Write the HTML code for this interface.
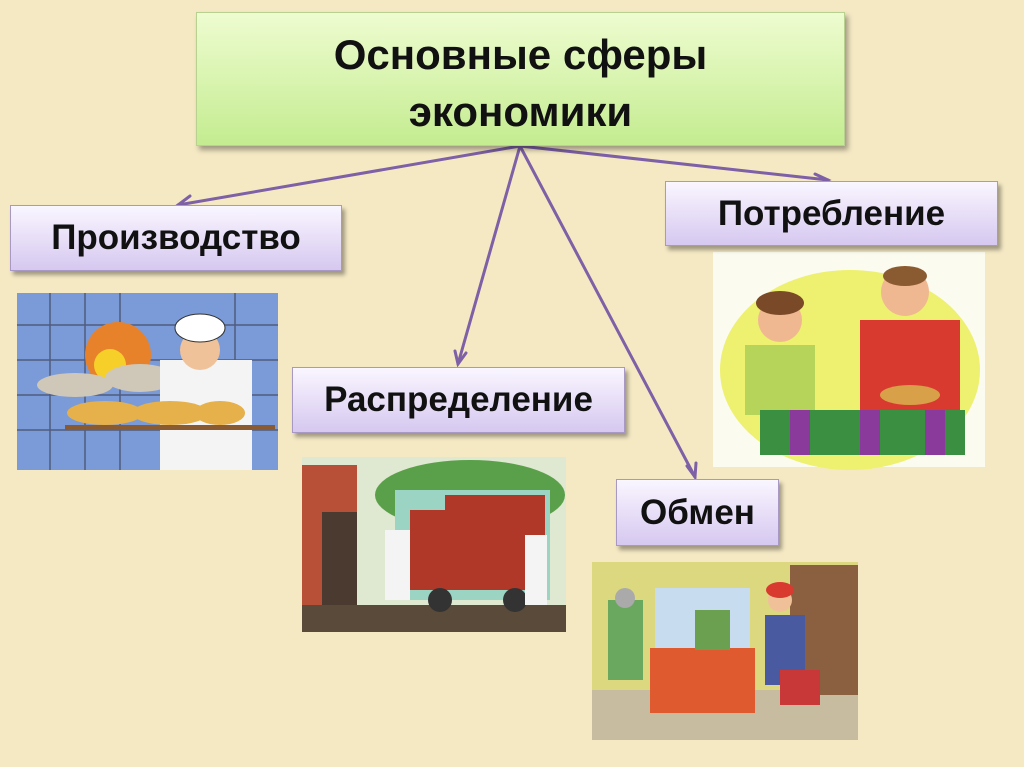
<!DOCTYPE html>
<html><head><meta charset="utf-8"><style>
html,body{margin:0;padding:0}
body{width:1024px;height:767px;position:relative;overflow:hidden;background:#f5e9c4;font-family:"Liberation Sans","DejaVu Sans",sans-serif;}
.b{position:absolute;box-sizing:border-box;display:flex;align-items:center;justify-content:center;text-align:center;font-weight:bold;color:#111;}
.top{left:196px;top:12px;width:649px;height:134px;background:linear-gradient(#eefcd0,#c4ec90);border:1px solid #b8d090;box-shadow:3px 4px 5px rgba(0,0,0,.35);font-size:42px;line-height:57px;padding-top:8px;}
.p{background:linear-gradient(#faf6ff,#d6c8f0);border:1px solid #a898c4;box-shadow:3px 4px 4px rgba(0,0,0,.35);font-size:35px;}
svg{position:absolute;left:0;top:0}
</style></head><body>
<svg width="1024" height="767">
<rect x="17" y="293" width="261" height="177" fill="#7a9bd8"/>
<g stroke="#334" stroke-width="1.5" opacity=".6">
<line x1="17" y1="325" x2="278" y2="325"/><line x1="17" y1="360" x2="278" y2="360"/><line x1="17" y1="395" x2="278" y2="395"/><line x1="17" y1="430" x2="278" y2="430"/>
<line x1="50" y1="293" x2="50" y2="470"/><line x1="85" y1="293" x2="85" y2="470"/><line x1="120" y1="293" x2="120" y2="470"/><line x1="235" y1="293" x2="235" y2="470"/>
</g>
<circle cx="118" cy="355" r="33" fill="#e8822a"/><circle cx="110" cy="365" r="16" fill="#f6d028"/>
<ellipse cx="75" cy="385" rx="38" ry="12" fill="#cfc7b8"/><ellipse cx="140" cy="378" rx="35" ry="14" fill="#cfc7b8"/>
<rect x="160" y="360" width="92" height="110" fill="#f4f4f4"/><circle cx="200" cy="350" r="20" fill="#f0c29a"/><ellipse cx="200" cy="328" rx="25" ry="14" fill="#fff" stroke="#333"/>
<rect x="65" y="425" width="210" height="5" fill="#8a5a30"/>
<ellipse cx="105" cy="413" rx="38" ry="12" fill="#e6b04a"/><ellipse cx="170" cy="413" rx="38" ry="12" fill="#e6b04a"/><ellipse cx="220" cy="413" rx="25" ry="12" fill="#e6b04a"/>
<rect x="302" y="457" width="264" height="175" fill="#dfe8d0"/>
<ellipse cx="470" cy="495" rx="95" ry="35" fill="#5aa04a"/>
<rect x="302" y="465" width="55" height="150" fill="#b85038"/><rect x="322" y="512" width="35" height="100" fill="#4a3a30"/>
<rect x="395" y="490" width="155" height="110" fill="#9cd4c4"/><rect x="445" y="495" width="100" height="95" fill="#b03828"/>
<rect x="410" y="510" width="35" height="80" fill="#b03828"/>
<rect x="302" y="605" width="264" height="27" fill="#5a4a3a"/>
<circle cx="440" cy="600" r="12" fill="#333"/><circle cx="515" cy="600" r="12" fill="#333"/>
<rect x="385" y="530" width="25" height="70" fill="#f4f4f4"/><rect x="525" y="535" width="22" height="70" fill="#f4f4f4"/>
<rect x="713" y="252" width="272" height="215" fill="#fbfbf0"/>
<ellipse cx="850" cy="370" rx="130" ry="100" fill="#eef070"/>
<rect x="745" y="345" width="70" height="70" fill="#b6d45a"/><circle cx="780" cy="320" r="22" fill="#f0b890"/><ellipse cx="780" cy="303" rx="24" ry="12" fill="#7a4a28"/>
<rect x="860" y="320" width="100" height="90" fill="#d83a30"/><circle cx="905" cy="292" r="24" fill="#f0b890"/><ellipse cx="905" cy="276" rx="22" ry="10" fill="#8a5a30"/>
<rect x="760" y="410" width="205" height="45" fill="#3a9040"/><rect x="790" y="410" width="20" height="45" fill="#8a3a9a"/><rect x="860" y="410" width="20" height="45" fill="#8a3a9a"/><rect x="925" y="410" width="20" height="45" fill="#8a3a9a"/>
<ellipse cx="910" cy="395" rx="30" ry="10" fill="#d8a048"/>
<rect x="592" y="562" width="266" height="178" fill="#dcd880"/>
<rect x="592" y="690" width="266" height="50" fill="#c8bca0"/>
<rect x="790" y="565" width="68" height="130" fill="#8a6040"/>
<rect x="655" y="588" width="95" height="60" fill="#c8dcf0"/><rect x="650" y="648" width="105" height="65" fill="#e05a30"/>
<rect x="695" y="610" width="35" height="40" fill="#6aa050"/>
<rect x="608" y="600" width="35" height="80" fill="#6aa860"/><circle cx="625" cy="598" r="10" fill="#aaa"/>
<rect x="765" y="615" width="40" height="70" fill="#4a5aa0"/><circle cx="780" cy="600" r="12" fill="#f0c098"/><ellipse cx="780" cy="590" rx="14" ry="8" fill="#d83a30"/>
<rect x="780" y="670" width="40" height="35" fill="#c83838"/>
<g stroke="#7e60a6" stroke-width="3" fill="none" stroke-linecap="round">
<line x1="520" y1="146" x2="178" y2="205"/><polyline points="190,196 178,205 192,209"/>
<line x1="520" y1="146" x2="828" y2="180"/><polyline points="815,174 828,180 815,186"/>
<line x1="520" y1="146" x2="458" y2="364"/><polyline points="455,351 458,364 466,353"/>
<line x1="520" y1="146" x2="695" y2="477"/><polyline points="687,466 695,477 696,463"/>
</g>
</svg>
<div class="b top">Основные сферы<br>экономики</div>
<div class="b p" style="left:10px;top:205px;width:332px;height:66px;">Производство</div>
<div class="b p" style="left:665px;top:181px;width:333px;height:65px;">Потребление</div>
<div class="b p" style="left:292px;top:367px;width:333px;height:66px;">Распределение</div>
<div class="b p" style="left:616px;top:479px;width:163px;height:67px;">Обмен</div>
</body></html>
